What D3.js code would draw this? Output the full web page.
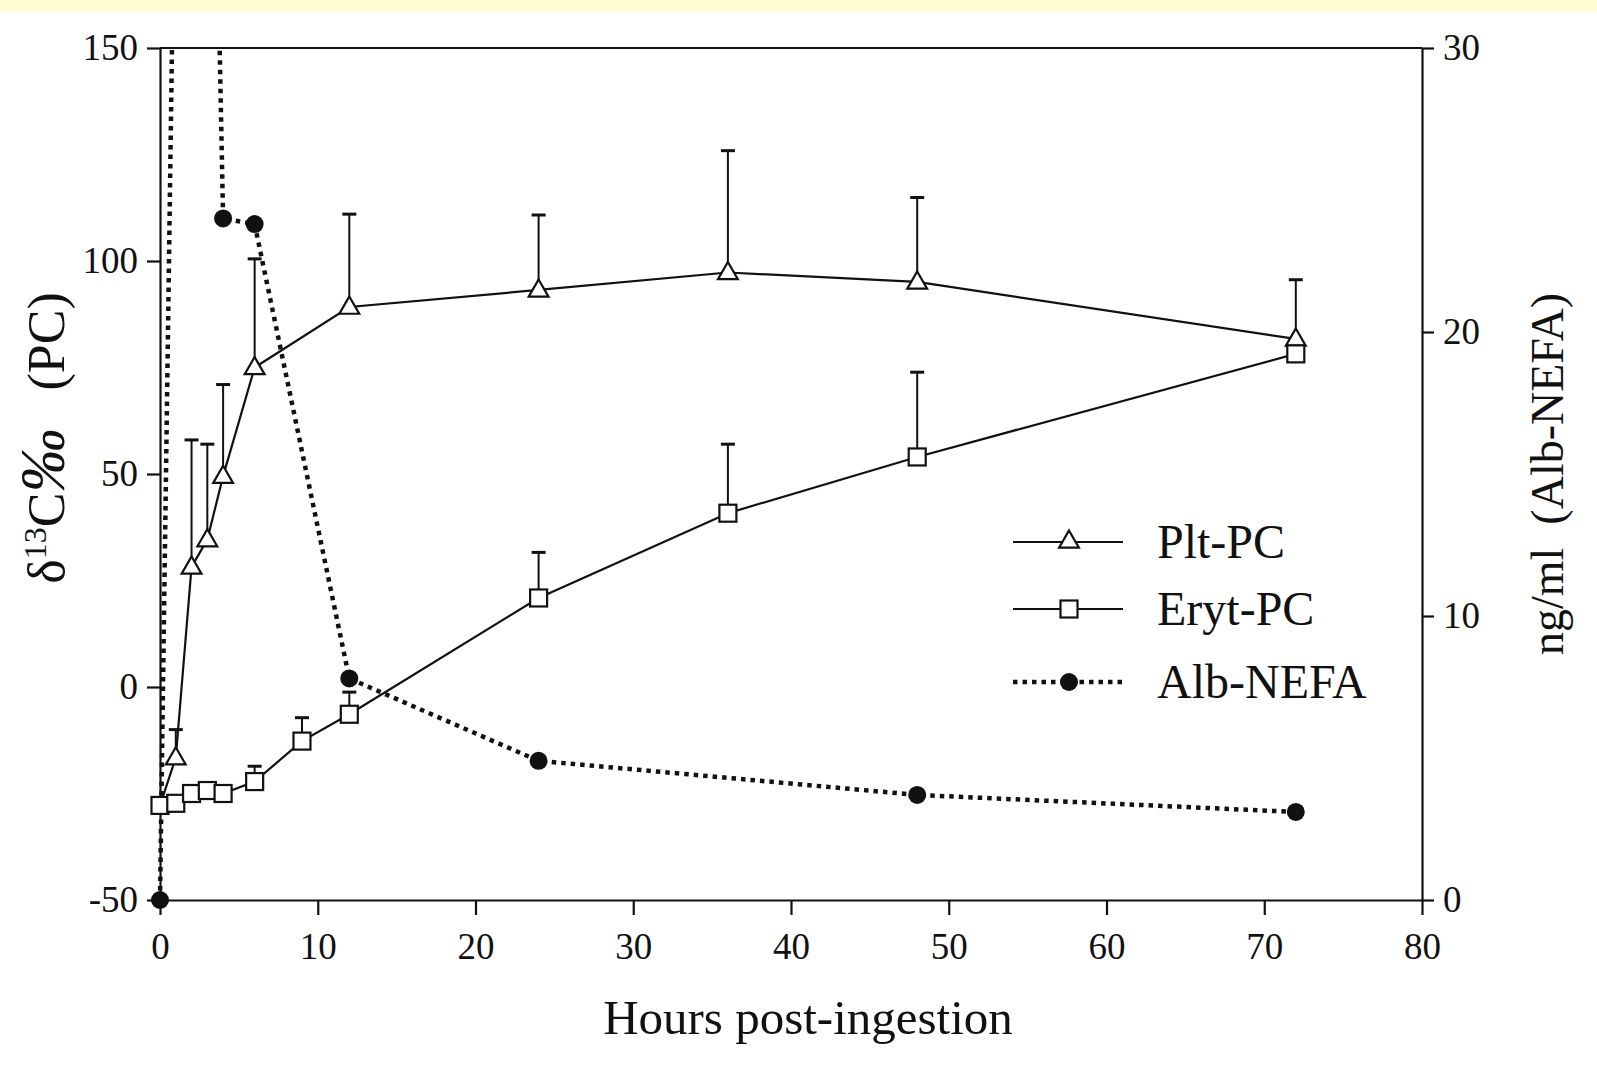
<!DOCTYPE html>
<html>
<head>
<meta charset="utf-8">
<script src="https://cdn.jsdelivr.net/npm/d3@7"></script>
<style>
  body { margin: 0; background: #fff; }
  .band { position: absolute; left: 0; top: 0; width: 1597px; height: 12px; background: #fffbd2; }
  text { font-family: "Liberation Serif", "DejaVu Serif", serif; fill: #111; }
  .tick text { font-size: 37px; }
  .tick line, .domain { stroke: #111; stroke-width: 2.2; }
</style>
</head>
<body>
<div class="band"></div>
<div id="chart"></div>
<script>
// data
var pltHours = [0, 1, 2, 3, 4, 6, 12, 24, 36, 48, 72];
var pltValues = [-27.8, -16.6, 28.2, 34.6, 49.5, 75, 89.2, 93.2, 97.3, 95.1, 81.7];
var pltErrTop = [null, -10, 58, 57, 71, 100.5, 111, 110.8, 125.9, 114.9, 95.6];

var erytHours = [0, 1, 2, 3, 4, 6, 9, 12, 24, 36, 48, 72];
var erytValues = [-27.8, -27.3, -25, -24.3, -25, -22.2, -12.7, -6.4, 20.9, 40.8, 54, 78.2];
var erytErrTop = [null, null, null, null, null, -18.6, -7.2, -1.2, 31.6, 57, 73.9, null];

// right axis (ng/ml); the 2 h value runs off the top of the chart
var nefaHours = [0, 2, 4, 6, 12, 24, 48, 72];
var nefaValues = [0, 79, 24.0, 23.8, 7.8, 4.9, 3.7, 3.1];

var xTicks = [0, 10, 20, 30, 40, 50, 60, 70, 80];
var yLeftTicks = [-50, 0, 50, 100, 150];
var yRightTicks = [0, 10, 20, 30];

var svgWidth = 1597;
var svgHeight = 1073;
var margin = { top: 48, right: 175, bottom: 173, left: 160 };
var width = svgWidth - margin.left - margin.right;
var height = svgHeight - margin.top - margin.bottom;

var svg = d3.select("#chart")
  .append("svg")
  .attr("width", svgWidth)
  .attr("height", svgHeight)
  .style("position", "absolute")
  .style("left", 0)
  .style("top", 0);

var chartGroup = svg.append("g")
  .attr("transform", `translate(${margin.left}, ${margin.top})`);

// scales
var xScale = d3.scaleLinear().domain([0, 80]).range([0, width]);
var yLeft = d3.scaleLinear().domain([-50, 150]).range([height, 0]);
var yRight = d3.scaleLinear().domain([0, 30]).range([height, 0]);

var plain = d => String(d);

// axes
chartGroup.append("g")
  .attr("transform", `translate(0, ${height})`)
  .call(d3.axisBottom(xScale).tickValues(xTicks).tickFormat(plain)
    .tickSize(15).tickSizeOuter(0).tickPadding(18));

chartGroup.append("g")
  .call(d3.axisLeft(yLeft).tickValues(yLeftTicks).tickFormat(plain)
    .tickSize(13).tickSizeOuter(0).tickPadding(9));

chartGroup.append("g")
  .attr("transform", `translate(${width}, 0)`)
  .call(d3.axisRight(yRight).tickValues(yRightTicks).tickFormat(plain)
    .tickSize(12).tickSizeOuter(0).tickPadding(9));

// top border
chartGroup.append("line")
  .attr("x1", 0).attr("x2", width)
  .attr("y1", 0).attr("y2", 0)
  .attr("stroke", "#111")
  .attr("stroke-width", 2.2);

// clip at the top so the big NEFA peak runs off the frame
chartGroup.append("clipPath")
  .attr("id", "clip")
  .append("rect")
  .attr("x", -40).attr("y", 0)
  .attr("width", width + 80).attr("height", height + 40);

var plot = chartGroup.append("g").attr("clip-path", "url(#clip)");

var pltData = pltHours.map((h, i) => ({ h: h, v: pltValues[i], e: pltErrTop[i] }));
var erytData = erytHours.map((h, i) => ({ h: h, v: erytValues[i], e: erytErrTop[i] }));
var nefaData = nefaHours.map((h, i) => ({ h: h, v: nefaValues[i] }));

// Alb-NEFA dotted line
var nefaLine = d3.line().x(d => xScale(d.h)).y(d => yRight(d.v));
plot.append("path")
  .datum(nefaData)
  .attr("d", nefaLine)
  .attr("fill", "none")
  .attr("stroke", "#111")
  .attr("stroke-width", 4.5)
  .attr("stroke-dasharray", "4.5,5");

// error bars (upper only)
function drawErrors(data, scale) {
  var g = plot.append("g");
  data.filter(d => d.e != null).forEach(function(d) {
    g.append("line")
      .attr("x1", xScale(d.h)).attr("x2", xScale(d.h))
      .attr("y1", scale(d.v)).attr("y2", scale(d.e))
      .attr("stroke", "#111").attr("stroke-width", 2);
    g.append("line")
      .attr("x1", xScale(d.h) - 7).attr("x2", xScale(d.h) + 7)
      .attr("y1", scale(d.e)).attr("y2", scale(d.e))
      .attr("stroke", "#111").attr("stroke-width", 3);
  });
}
drawErrors(pltData, yLeft);
drawErrors(erytData, yLeft);

var solidLine = d3.line().x(d => xScale(d.h)).y(d => yLeft(d.v));

plot.append("path")
  .datum(pltData)
  .attr("d", solidLine)
  .attr("fill", "none")
  .attr("stroke", "#111")
  .attr("stroke-width", 2.2);

plot.append("path")
  .datum(erytData)
  .attr("d", solidLine)
  .attr("fill", "none")
  .attr("stroke", "#111")
  .attr("stroke-width", 2.2);

// markers
var triangle = d3.symbol().type(d3.symbolTriangle).size(170);

plot.selectAll(".nefa-dot")
  .data(nefaData)
  .enter().append("circle")
  .attr("cx", d => xScale(d.h))
  .attr("cy", d => yRight(d.v))
  .attr("r", 9)
  .attr("fill", "#111");

plot.selectAll(".plt")
  .data(pltData.filter(d => d.h > 0))
  .enter().append("path")
  .attr("d", triangle)
  .attr("transform", d => `translate(${xScale(d.h)}, ${yLeft(d.v) + 1})`)
  .attr("fill", "#fff")
  .attr("stroke", "#111")
  .attr("stroke-width", 2.2);

plot.selectAll(".eryt")
  .data(erytData)
  .enter().append("rect")
  .attr("x", d => xScale(d.h) - 8.5)
  .attr("y", d => yLeft(d.v) - 8.5)
  .attr("width", 17)
  .attr("height", 17)
  .attr("fill", "#fff")
  .attr("stroke", "#111")
  .attr("stroke-width", 2.2);

// axis titles
svg.append("text")
  .attr("x", margin.left + width / 2 + 17)
  .attr("y", 1034)
  .attr("text-anchor", "middle")
  .style("font-size", "49px")
  .text("Hours post-ingestion");

var leftTitle = svg.append("text")
  .attr("transform", "translate(64, 438) rotate(-90)")
  .attr("text-anchor", "middle")
  .style("font-size", "52px");
leftTitle.append("tspan").text("δ");
leftTitle.append("tspan").attr("baseline-shift", "super").style("font-size", "32px").text("13");
leftTitle.append("tspan").text("C");
leftTitle.append("tspan").style("font-style", "italic").style("font-size", "64px").text("‰");
leftTitle.append("tspan").attr("dx", 38).text("(PC)");

svg.append("text")
  .attr("transform", "translate(1563, 474) rotate(-90)")
  .attr("text-anchor", "middle")
  .style("font-size", "46px")
  .attr("xml:space", "preserve")
  .text("ng/ml  (Alb-NEFA)");

// legend
var legendItems = ["Plt-PC", "Eryt-PC", "Alb-NEFA"];
var legendY = [542, 609, 682];
var legend = svg.append("g");

legendItems.forEach(function(name, i) {
  var y = legendY[i];
  legend.append("line")
    .attr("x1", 1013).attr("x2", 1123)
    .attr("y1", y).attr("y2", y)
    .attr("stroke", "#111")
    .attr("stroke-width", i == 2 ? 4.5 : 2.2)
    .attr("stroke-dasharray", i == 2 ? "4.5,5" : null);
  if (i == 0) {
    legend.append("path").attr("d", triangle)
      .attr("transform", `translate(1069, ${y})`)
      .attr("fill", "#fff").attr("stroke", "#111").attr("stroke-width", 2.2);
  } else if (i == 1) {
    legend.append("rect")
      .attr("x", 1069 - 8.5).attr("y", y - 8.5)
      .attr("width", 17).attr("height", 17)
      .attr("fill", "#fff").attr("stroke", "#111").attr("stroke-width", 2.2);
  } else {
    legend.append("circle").attr("cx", 1069).attr("cy", y).attr("r", 9).attr("fill", "#111");
  }
  legend.append("text")
    .attr("x", 1157)
    .attr("y", y + 16)
    .style("font-size", "48px")
    .text(name);
});
</script>
</body>
</html>
